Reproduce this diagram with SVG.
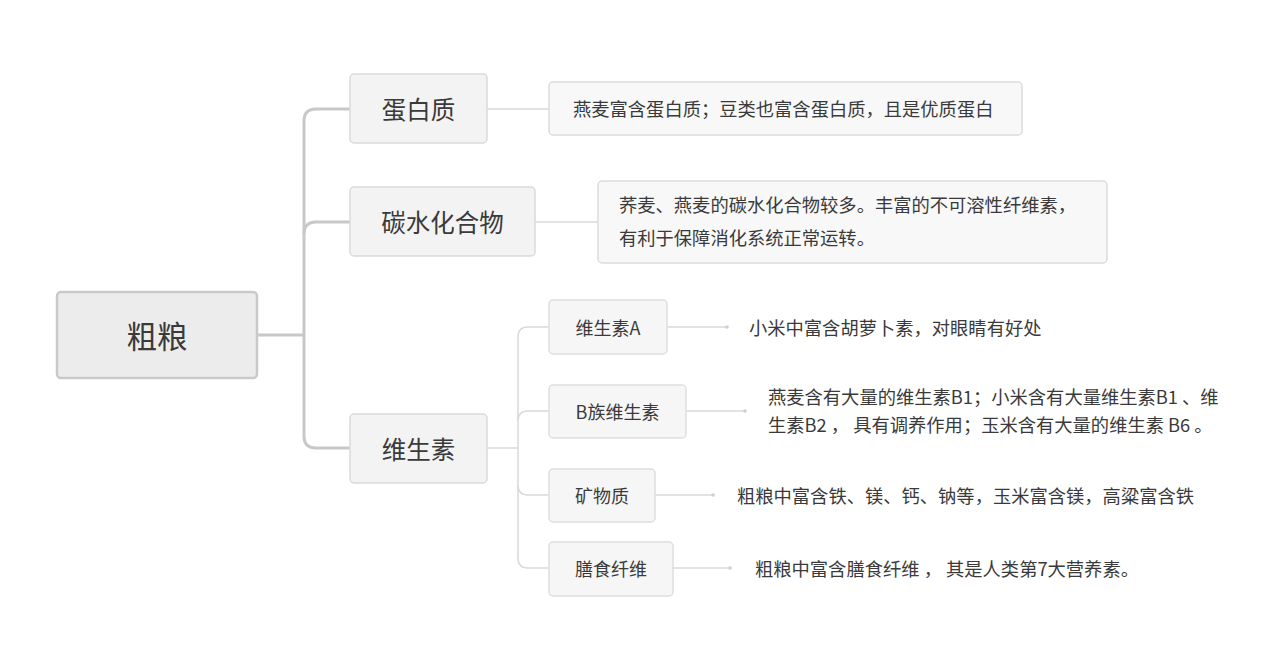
<svg xmlns="http://www.w3.org/2000/svg" width="1272" height="656" viewBox="0 0 1272 656">
<style>
text{font-family:"Noto Sans CJK SC","Liberation Sans",sans-serif;fill:#3a3a3a;dominant-baseline:central}
.root rect{fill:#ececec;stroke:#c9c9c9;stroke-width:2.5}
.l1 rect{fill:#f3f3f3;stroke:#dadada;stroke-width:1.5}
.l2 rect{fill:#f6f6f6;stroke:#dedede;stroke-width:1.5}
.det rect{fill:#f8f8f8;stroke:#dcdcdc;stroke-width:1.5}
.main{fill:none;stroke:#c8c8c8;stroke-width:3}
.thin{fill:none;stroke:#d9d9d9;stroke-width:1.5}
.dot{fill:#cfcfcf}
.d{font-size:18.3px}
.s{font-size:18px}
.m{font-size:24.5px}
</style>
<rect width="1272" height="656" fill="#ffffff"/>
<g id="connectors">
<path class="main" d="M257 335 H304"/>
<path class="main" d="M350 109 H316 Q304 109 304 121 V436 Q304 448 316 448 H350"/>
<path class="main" d="M304 234 Q304 222 316 222 H350"/>
<path class="thin" d="M487 109 H549"/>
<path class="thin" d="M535 222 H598"/>
<path class="thin" d="M487 448 H518"/>
<path class="thin" d="M549 327 H528 Q518 327 518 337 V558 Q518 568 528 568 H549"/>
<path class="thin" d="M518 421 Q518 411 528 411 H549"/>
<path class="thin" d="M518 485 Q518 495 528 495 H549"/>
<path class="thin" d="M667 327 H727"/>
<circle class="dot" cx="727" cy="327" r="1.8"/>
<path class="thin" d="M686 411 H745"/>
<circle class="dot" cx="745" cy="411" r="1.8"/>
<path class="thin" d="M655 495 H713"/>
<circle class="dot" cx="713" cy="495" r="1.8"/>
<path class="thin" d="M673 568 H730"/>
<circle class="dot" cx="730" cy="568" r="1.8"/>
</g>
<g id="root" class="root">
<rect x="57" y="292" width="200" height="86" rx="4"/>
<text x="157" y="335" font-size="30.5" text-anchor="middle">粗粮</text>
</g>
<g id="protein" class="l1">
<rect x="350" y="74" width="137" height="69" rx="4"/>
<text class="m" x="418.5" y="108.5" text-anchor="middle">蛋白质</text>
</g>
<g id="carb" class="l1">
<rect x="350" y="187" width="185" height="69" rx="4"/>
<text class="m" x="442.5" y="221.5" text-anchor="middle">碳水化合物</text>
</g>
<g id="vitamin" class="l1">
<rect x="350" y="414" width="137" height="69" rx="4"/>
<text class="m" x="418.5" y="448.5" text-anchor="middle">维生素</text>
</g>
<g id="protein-detail" class="det">
<rect x="549" y="82" width="473" height="53" rx="4"/>
<text class="d" x="573" y="108">燕麦富含蛋白质；豆类也富含蛋白质，且是优质蛋白</text>
</g>
<g id="carb-detail" class="det">
<rect x="598" y="181" width="509" height="82" rx="4"/>
<text class="d" x="619" y="204">荞麦、燕麦的碳水化合物较多。丰富的不可溶性纤维素，</text>
<text class="d" x="619" y="237">有利于保障消化系统正常运转。</text>
</g>
<g id="vitA" class="l2">
<rect x="549" y="300" width="118" height="54" rx="4"/>
<text class="s" x="608" y="327" text-anchor="middle">维生素A</text>
</g>
<g id="vitB" class="l2">
<rect x="549" y="385" width="137" height="53" rx="4"/>
<text class="s" x="617.5" y="411" text-anchor="middle">B族维生素</text>
</g>
<g id="mineral" class="l2">
<rect x="549" y="469" width="106" height="53" rx="4"/>
<text class="s" x="602" y="495" text-anchor="middle">矿物质</text>
</g>
<g id="fiber" class="l2">
<rect x="549" y="542" width="124" height="54" rx="4"/>
<text class="s" x="611" y="568" text-anchor="middle">膳食纤维</text>
</g>
<g id="vitA-text">
<text class="d" x="749" y="327">小米中富含胡萝卜素，对眼睛有好处</text>
</g>
<g id="vitB-text">
<text class="d" x="768" y="396">燕麦含有大量的维生素B1；小米含有大量维生素B1 、维</text>
<text class="d" x="768" y="424">生素B2 ， 具有调养作用；玉米含有大量的维生素 B6 。</text>
</g>
<g id="mineral-text">
<text class="d" x="737" y="495">粗粮中富含铁、镁、钙、钠等，玉米富含镁，高粱富含铁</text>
</g>
<g id="fiber-text">
<text class="d" x="755" y="568">粗粮中富含膳食纤维 ， 其是人类第7大营养素。</text>
</g>
</svg>
